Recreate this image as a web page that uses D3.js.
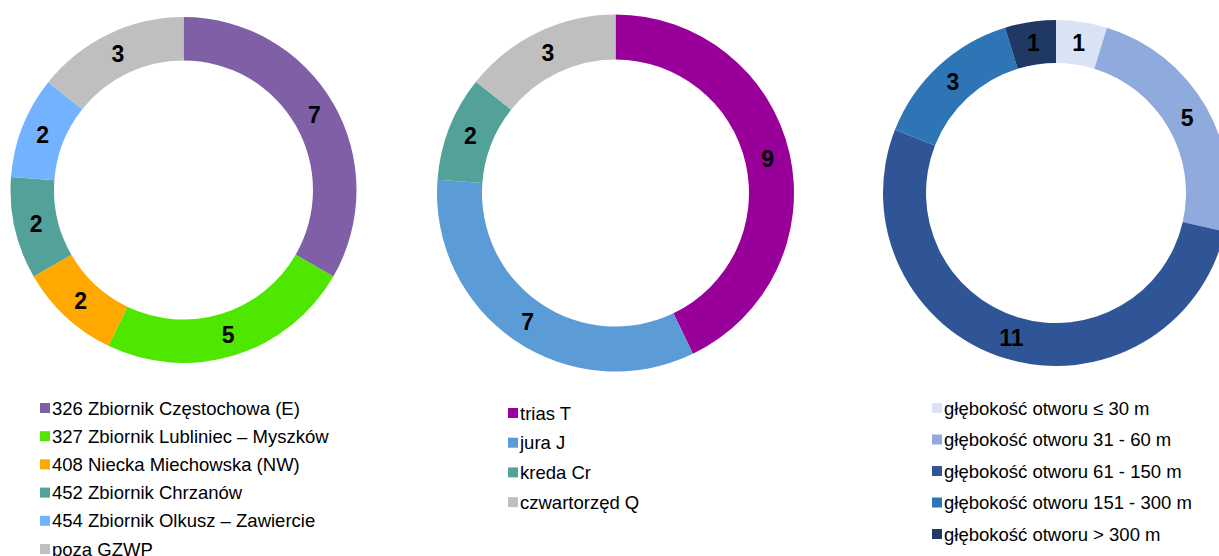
<!DOCTYPE html>
<html><head><meta charset="utf-8">
<script src="https://cdn.jsdelivr.net/npm/d3@7/dist/d3.min.js"></script>
<style>html,body{margin:0;padding:0;background:#fff;overflow:hidden}</style>
</head><body>
<svg id="c" width="1219" height="556"></svg>
<script>
// Chart 1: GZWP
const cat1 = ["326 Zbiornik Częstochowa (E)", "327 Zbiornik Lubliniec – Myszków", "408 Niecka Miechowska (NW)", "452 Zbiornik Chrzanów", "454 Zbiornik Olkusz – Zawiercie", "poza GZWP"];
const val1 = [7, 5, 2, 2, 2, 3];
const col1 = ["#7F5FA6", "#4FE600", "#FFA800", "#52A29A", "#73B2FF", "#BFBFBF"];
// Chart 2: stratigraphy
const cat2 = ["trias T", "jura J", "kreda Cr", "czwartorzęd Q"];
const val2 = [9, 7, 2, 3];
const col2 = ["#990099", "#5B9BD6", "#52A29A", "#BFBFBF"];
// Chart 3: depth
const cat3 = ["głębokość otworu ≤ 30 m", "głębokość otworu 31 - 60 m", "głębokość otworu 61 - 150 m", "głębokość otworu 151 - 300 m", "głębokość otworu > 300 m"];
const val3 = [1, 5, 11, 3, 1];
const col3 = ["#DAE3F3", "#8FAADC", "#2F5597", "#2E75B6", "#203864"];

const svg = d3.select("#c");
const FONT = "'Liberation Sans', Arial, sans-serif";

function donut(cats, vals, cols, cx, cy, rOut, rIn, leg) {
  const data = cats.map((c, i) => ({c, v: vals[i], col: cols[i]}));
  const pie = d3.pie().value(d => d.v).sort(null);
  const arc = d3.arc().innerRadius(rIn).outerRadius(rOut);
  const g = svg.append("g").attr("transform", `translate(${cx},${cy})`);
  const arcs = pie(data);
  g.selectAll("path").data(arcs).join("path")
    .attr("d", arc).attr("fill", d => d.data.col);
  g.selectAll("text").data(arcs).join("text")
    .attr("transform", d => `translate(${arc.centroid(d)})`)
    .attr("text-anchor", "middle").attr("dy", "0.36em")
    .style("font-family", FONT).style("font-weight", "bold").style("font-size", "23px")
    .attr("fill", "#000").text(d => d.data.v);
  const lg = svg.append("g").attr("transform", `translate(${leg.x},${leg.y})`);
  const y = d3.scalePoint().domain(cats).range([0, leg.step * (cats.length - 1)]);
  const rows = lg.selectAll("g").data(data).join("g").attr("transform", d => `translate(0,${y(d.c)})`);
  rows.append("rect").attr("x", 0).attr("y", -5).attr("width", 10).attr("height", 10).attr("fill", d => d.col);
  rows.append("text").attr("x", 12).attr("dy", "0.36em")
    .style("font-family", FONT).style("font-size", "18.5px").attr("fill", "#000").text(d => d.c);
}

donut(cat1, val1, col1, 183.5, 190, 173, 129.5, {x: 40, y: 408, step: 28.2});
donut(cat2, val2, col2, 615.5, 193, 178.5, 133.5, {x: 508, y: 413, step: 29.7});
donut(cat3, val3, col3, 1056, 193, 173, 130, {x: 932, y: 408, step: 31.5});
</script>
</body></html>
